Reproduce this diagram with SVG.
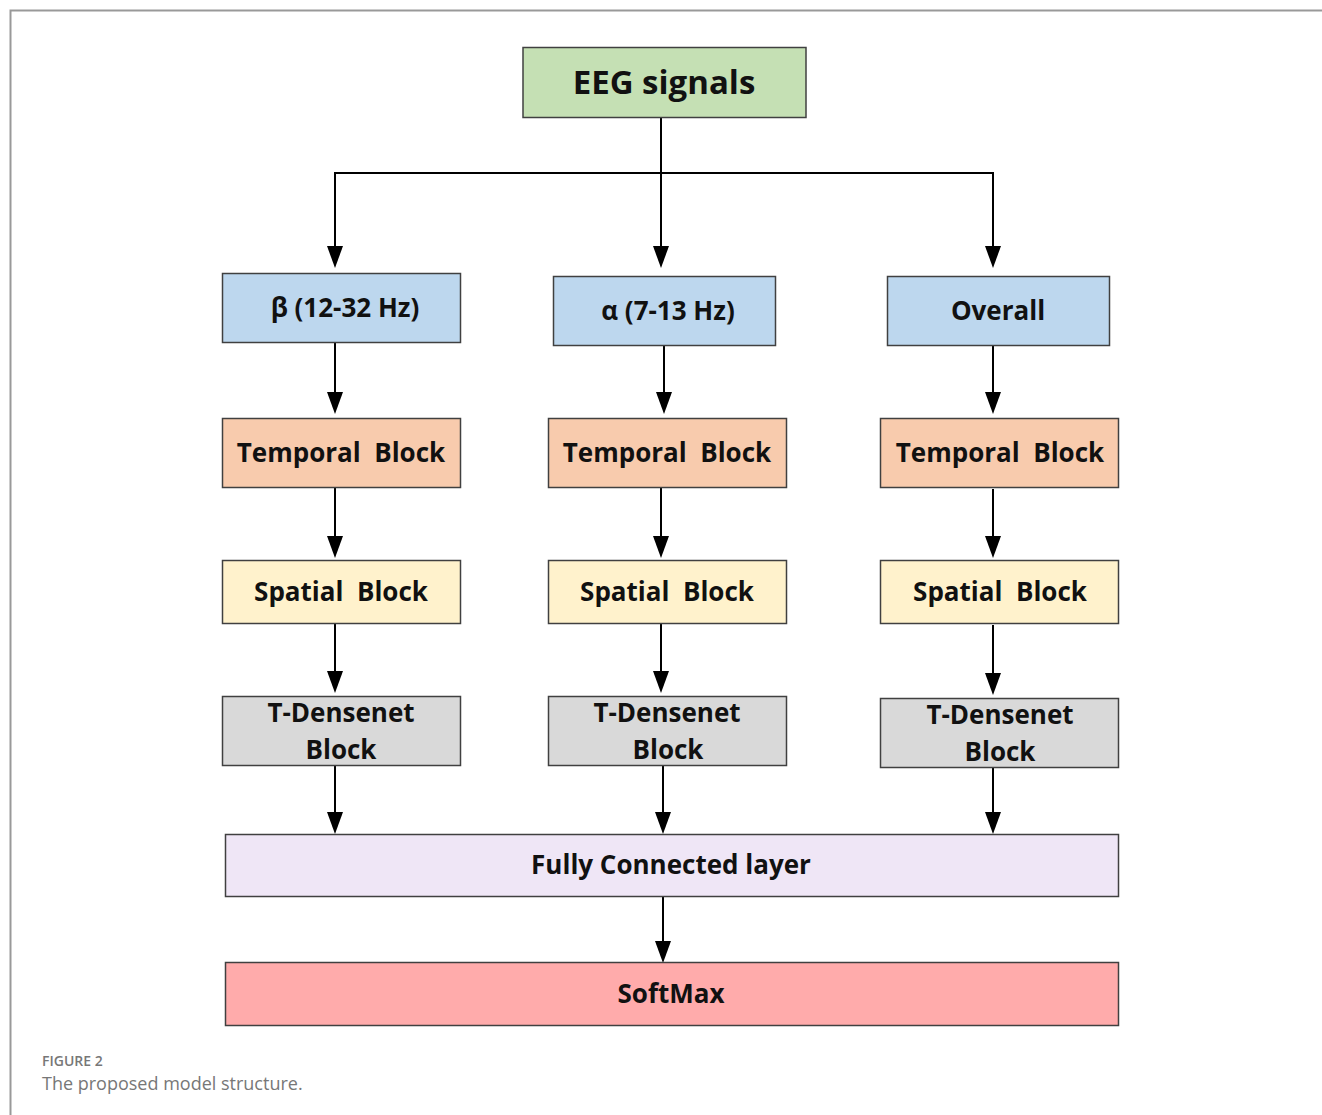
<svg xmlns="http://www.w3.org/2000/svg" width="1322" height="1115" viewBox="0 0 1322 1115">
<style>
.box{stroke:#404040;stroke-width:1.5}
.t{font-family:"Open Sans","Noto Sans",sans-serif;font-weight:bold;font-size:26px;fill:#111;text-anchor:middle;white-space:pre}
.c{stroke:#000;stroke-width:2;fill:none}
.cap{font-family:"Open Sans","Noto Sans",sans-serif;fill:#777}
</style>
<rect width="1322" height="1115" fill="#fff"/>
<path d="M10.5,1115 V10.5 H1322" fill="none" stroke="#999" stroke-width="2"/>

<g id="connectors">
<path class="c" d="M661,117 V248"/>
<path class="c" d="M335,248 V173 H993 V248"/>
<polygon points="327,246 343,246 335,268"/>
<polygon points="653,246 669,246 661,268"/>
<polygon points="985,246 1001,246 993,268"/>

<path class="c" d="M335,342 V394"/><polygon points="327,392 343,392 335,414"/>
<path class="c" d="M664,345 V394"/><polygon points="656,392 672,392 664,414"/>
<path class="c" d="M993,345 V394"/><polygon points="985,392 1001,392 993,414"/>

<path class="c" d="M335,487 V538"/><polygon points="327,536 343,536 335,558"/>
<path class="c" d="M661,487 V538"/><polygon points="653,536 669,536 661,558"/>
<path class="c" d="M993,489 V538"/><polygon points="985,536 1001,536 993,558"/>

<path class="c" d="M335,623 V673"/><polygon points="327,671 343,671 335,693"/>
<path class="c" d="M661,623 V673"/><polygon points="653,671 669,671 661,693"/>
<path class="c" d="M993,625 V675"/><polygon points="985,673 1001,673 993,695"/>

<path class="c" d="M335,765 V814"/><polygon points="327,812 343,812 335,834"/>
<path class="c" d="M663,765 V814"/><polygon points="655,812 671,812 663,834"/>
<path class="c" d="M993,767 V814"/><polygon points="985,812 1001,812 993,834"/>

<path class="c" d="M663,896 V943"/><polygon points="655,941 671,941 663,963"/>
</g>

<g id="eeg"><rect class="box" x="523" y="47.5" width="283" height="70" fill="#c5e0b4" stroke-width="2"/><text class="t" x="664" y="94" style="font-size:33px">EEG signals</text></g>

<g id="beta"><rect class="box" x="222.5" y="273.5" width="238" height="69" fill="#bdd7ee"/><text class="t" x="345" y="317">β (12-32 Hz)</text></g>
<g id="alpha"><rect class="box" x="553.5" y="276.5" width="222" height="69" fill="#bdd7ee"/><text class="t" x="668" y="320">α (7-13 Hz)</text></g>
<g id="overall"><rect class="box" x="887.5" y="276.5" width="222" height="69" fill="#bdd7ee"/><text class="t" x="998" y="320">Overall</text></g>

<g id="temporal1"><rect class="box" x="222.5" y="418.5" width="238" height="69" fill="#f8cbad"/><text class="t" x="341" y="462" xml:space="preserve">Temporal  Block</text></g>
<g id="temporal2"><rect class="box" x="548.5" y="418.5" width="238" height="69" fill="#f8cbad"/><text class="t" x="667" y="462" xml:space="preserve">Temporal  Block</text></g>
<g id="temporal3"><rect class="box" x="880.5" y="418.5" width="238" height="69" fill="#f8cbad"/><text class="t" x="1000" y="462" xml:space="preserve">Temporal  Block</text></g>

<g id="spatial1"><rect class="box" x="222.5" y="560.5" width="238" height="63" fill="#fff2cc"/><text class="t" x="341" y="601" xml:space="preserve">Spatial  Block</text></g>
<g id="spatial2"><rect class="box" x="548.5" y="560.5" width="238" height="63" fill="#fff2cc"/><text class="t" x="667" y="601" xml:space="preserve">Spatial  Block</text></g>
<g id="spatial3"><rect class="box" x="880.5" y="560.5" width="238" height="63" fill="#fff2cc"/><text class="t" x="1000" y="601" xml:space="preserve">Spatial  Block</text></g>

<g id="tdense1"><rect class="box" x="222.5" y="696.5" width="238" height="69" fill="#d9d9d9"/><text class="t" x="341" y="722">T-Densenet</text><text class="t" x="341" y="759">Block</text></g>
<g id="tdense2"><rect class="box" x="548.5" y="696.5" width="238" height="69" fill="#d9d9d9"/><text class="t" x="667" y="722">T-Densenet</text><text class="t" x="668" y="759">Block</text></g>
<g id="tdense3"><rect class="box" x="880.5" y="698.5" width="238" height="69" fill="#d9d9d9"/><text class="t" x="1000" y="724">T-Densenet</text><text class="t" x="1000" y="761">Block</text></g>

<g id="fc"><rect class="box" x="225.5" y="834.5" width="893" height="62" fill="#efe6f6"/><text class="t" x="671" y="874">Fully Connected layer</text></g>
<g id="softmax"><rect class="box" x="225.5" y="962.5" width="893" height="63" fill="#ffabab"/><text class="t" x="671" y="1003">SoftMax</text></g>

<text class="cap" x="42" y="1066" style="font-size:14px;font-weight:600">FIGURE 2</text>
<text class="cap" x="42" y="1090" style="font-size:18px">The proposed model structure.</text>
</svg>
